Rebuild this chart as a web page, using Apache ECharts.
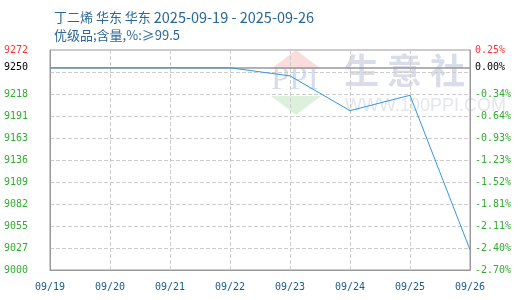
<!DOCTYPE html>
<html>
<head>
<meta charset="utf-8">
<script src="https://cdn.jsdelivr.net/npm/echarts@6/dist/echarts.min.js"></script>
<style>html,body{margin:0;padding:0;background:#fff}#c{width:520px;height:300px}</style>
</head>
<body>
<div id="c"></div>
<script>
var titleProduct = '丁二烯 华东 华东';
var titleDates = '2025-09-19 - 2025-09-26';
var titleLine2 = '优级品;含量,%:≥99.5';
var categories = ['09/19', '09/20', '09/21', '09/22', '09/23', '09/24', '09/25', '09/26'];
var prices = [9250, 9250, 9250, 9250, 9240, 9197, 9216, 9025];
var basePrice = 9250;
var axisMin = 9000;
var axisMax = 9272;
var leftTickLabels = ['9000', '9027', '9055', '9082', '9109', '9136', '9163', '9191', '9218', '9250', '9272'];
var rightTickLabels = ['-2.70%', '-2.40%', '-2.11%', '-1.81%', '-1.52%', '-1.23%', '-0.93%', '-0.64%', '-0.34%', '0.00%', '0.25%'];

var step = (axisMax - axisMin) / 10;
var tickValues = [];
for (var i = 0; i < 9; i++) tickValues.push(axisMin + step * i);
tickValues.push(basePrice);
tickValues.push(axisMax);

function idxOf(v) {
  var best = 0, d = Infinity;
  for (var i = 0; i < tickValues.length; i++) {
    var dd = Math.abs(tickValues[i] - v);
    if (dd < d) { d = dd; best = i; }
  }
  return best;
}
function colorOf(v) {
  var i = idxOf(v);
  if (i === tickValues.length - 1) return '#ff3333';
  if (i === tickValues.length - 2) return '#000000';
  return '#33aa33';
}

var mono = '"DejaVu Sans Mono", "Liberation Mono", monospace';
var titleFont = '"Noto Sans CJK SC", sans-serif';
var titleColor = '#2a6796';
var chart = echarts.init(document.getElementById('c'), null, {renderer: 'canvas'});
chart.setOption({
  animation: false,
  backgroundColor: '#ffffff',
  title: [
    {text: '{c|' + titleProduct + '} {d|' + titleDates + '}', left: 49, top: 5,
     textStyle: {fontSize: 13, fontWeight: 'normal', color: titleColor, fontFamily: titleFont,
       rich: {c: {fontSize: 13, color: titleColor, fontFamily: titleFont}, d: {fontSize: 14.5, color: titleColor, fontFamily: titleFont}}}},
    {text: titleLine2, left: 49, top: 24, textStyle: {fontSize: 13, fontWeight: 'normal', color: titleColor, fontFamily: titleFont}}
  ],
  graphic: [
    {type: 'polygon', z: -10, shape: {points: [[296, 50], [321, 69], [271, 69]]}, style: {fill: '#fadcdc'}},
    {type: 'polygon', z: -10, shape: {points: [[271, 96], [321, 96], [296, 115]]}, style: {fill: '#dcf0dc'}},
    {type: 'text', z: -10, left: 271, top: 64, style: {text: 'PPI', fontSize: 33, fontFamily: '"Liberation Serif", serif', fill: '#d6ddea'}},
    {type: 'text', z: -10, left: 344, top: 53, style: {text: '生 意 社', fontSize: 35, fontWeight: 'bold', fontFamily: '"Noto Sans CJK SC", sans-serif', fill: '#d8dde9'}},
    {type: 'text', z: -10, left: 345, top: 97, style: {text: 'WWW.100PPI.COM', fontSize: 18, fontFamily: '"Liberation Sans", sans-serif', fill: '#e4e6ec'}}
  ],
  grid: {left: 50, right: 50, top: 50, bottom: 30, show: true, borderColor: '#999', borderWidth: 1, backgroundColor: 'transparent'},
  xAxis: {
    type: 'category',
    data: categories,
    boundaryGap: false,
    axisLine: {show: true, lineStyle: {color: '#999'}},
    axisTick: {show: false},
    axisLabel: {color: '#1a5c8c', fontSize: 10, fontFamily: mono, margin: 12},
    splitLine: {show: true, lineStyle: {color: '#cccccc', type: 'dashed'}}
  },
  yAxis: [
    {
      type: 'value', min: axisMin, max: axisMax, interval: step, position: 'left',
      axisLine: {show: true, lineStyle: {color: '#999'}},
      axisTick: {show: false},
      splitLine: {show: true, lineStyle: {color: '#cccccc', type: 'dashed'}},
      axisLabel: {
        customValues: tickValues,
        fontSize: 10, fontFamily: mono, margin: 22, align: 'right',
        formatter: function (v) { return leftTickLabels[idxOf(v)]; },
        color: function (v) { return colorOf(v); }
      }
    },
    {
      type: 'value', min: axisMin, max: axisMax, interval: step, position: 'right',
      axisLine: {show: true, lineStyle: {color: '#999'}},
      axisTick: {show: false},
      splitLine: {show: false},
      axisLabel: {
        customValues: tickValues,
        fontSize: 10, fontFamily: mono, margin: 5,
        formatter: function (v) { return rightTickLabels[idxOf(v)]; },
        color: function (v) { return colorOf(v); }
      }
    }
  ],
  series: [{
    type: 'line',
    data: prices,
    yAxisIndex: 0,
    symbol: 'none',
    lineStyle: {color: '#3398db', width: 1},
    z: 5,
    markLine: {
      silent: true, symbol: 'none', label: {show: false}, z: 1,
      lineStyle: {color: '#999', type: 'solid', width: 1.5},
      data: [{yAxis: basePrice}]
    }
  }]
});
</script>
</body>
</html>
